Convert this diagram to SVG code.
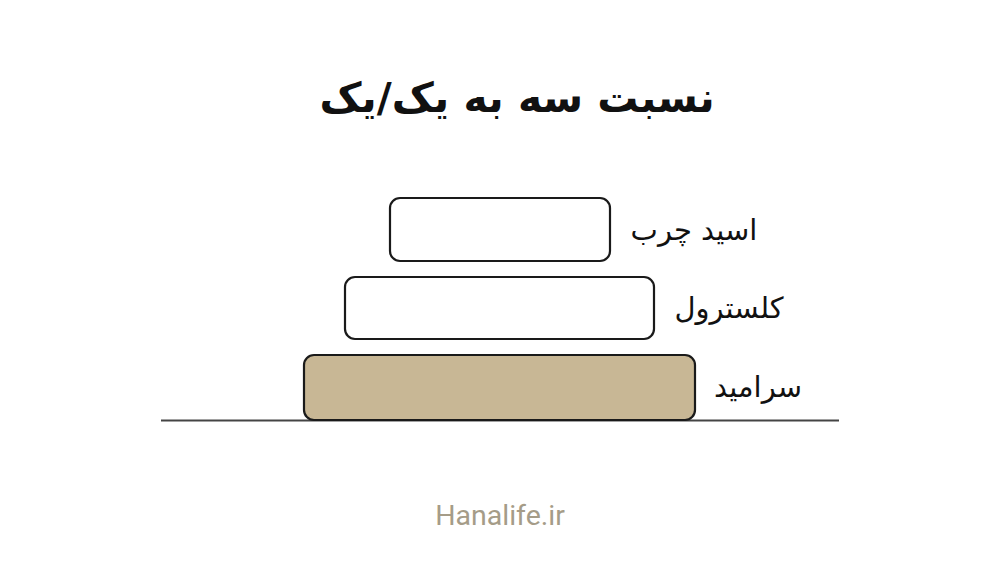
<svg xmlns="http://www.w3.org/2000/svg" width="1000" height="563" viewBox="0 0 1000 563">
<style>
.box{stroke:#1a1a1a;stroke-width:2.2}
.lbl{font-family:"DejaVu Sans",sans-serif;font-size:29px;fill:#111;text-anchor:middle}
</style>
<rect width="1000" height="563" fill="#fff"/>
<text x="517" y="112" style="font-family:'DejaVu Sans',sans-serif;font-size:41px;font-weight:bold;fill:#111;text-anchor:middle" direction="rtl">نسبت سه به یک/یک</text>
<g id="connectors">
<line x1="161" y1="420.5" x2="839" y2="420.5" stroke="#444" stroke-width="2"/>
</g>
<g id="node-fatty-acid">
<rect class="box" x="390" y="198" width="220" height="63" rx="10" fill="#fff"/>
<text class="lbl" x="694" y="240" direction="rtl">اسید چرب</text>
</g>
<g id="node-cholesterol">
<rect class="box" x="345" y="277" width="309" height="62" rx="10" fill="#fff"/>
<text class="lbl" x="729" y="318" direction="rtl">کلسترول</text>
</g>
<g id="node-ceramide">
<rect class="box" x="304" y="355" width="391" height="65" rx="10" fill="#C8B795"/>
<text class="lbl" x="758" y="397" direction="rtl">سرامید</text>
</g>
<text x="500" y="525" style="font-family:Roboto,sans-serif;font-size:28.5px;fill:#A59C88;text-anchor:middle">Hanalife.ir</text>
</svg>
